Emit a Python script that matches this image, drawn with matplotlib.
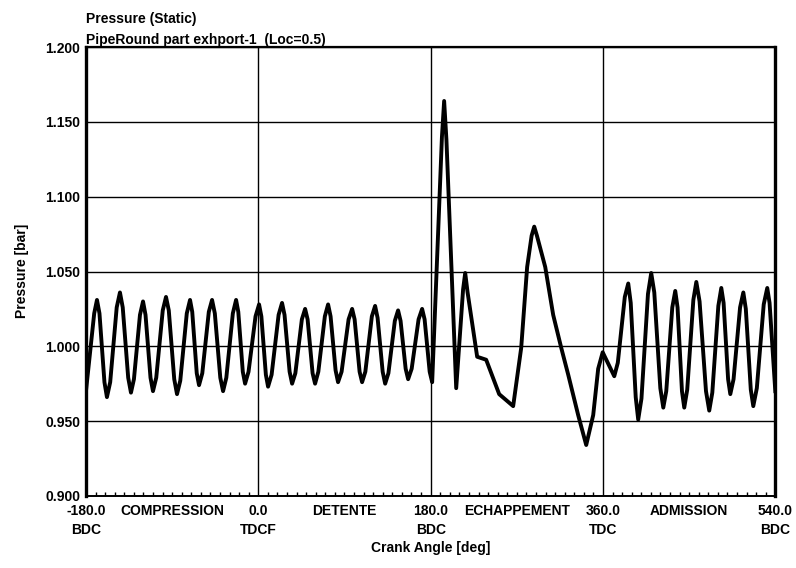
import matplotlib.pyplot as plt
from matplotlib.ticker import MultipleLocator

# crank angle [deg] / static pressure [bar]
# (peaks, troughs and the shoulders either side of them)
angle = [-180.0, -171.4, -168.5, -165.9, -160.7, -158.1, -154.7, -147.9, -144.5,
         -141.6, -135.9, -133.0, -129.9, -123.6, -120.4, -117.8, -112.6, -110.0,
         -106.6, -99.8, -96.4, -93.5, -87.8, -84.9, -81.5, -74.7, -71.3, -69.0,
         -64.3, -61.9, -58.5, -51.7, -48.3, -45.4, -39.7, -36.8, -33.4, -26.6,
         -23.2, -20.9, -16.2, -13.8, -10.2, -2.9, 0.8, 3.2, 7.9, 10.2, 13.9, 21.2,
         24.8, 27.4, 32.7, 35.3, 38.7, 45.5, 48.9, 51.5, 56.7, 59.3, 62.7, 69.5,
         72.9, 75.5, 80.7, 83.3, 87.0, 94.3, 98.0, 100.6, 105.8, 108.4, 111.8,
         118.6, 122.0, 124.6, 129.9, 132.5, 135.9, 142.6, 146.0, 148.6, 153.9,
         156.5, 160.2, 167.4, 171.1, 173.7, 179.0, 181.6,
         191.8, 194.1, 196.5, 206.7, 213.9, 216.1, 218.6, 228.6, 238.0, 251.6,
         266.2, 274.6, 280.8, 285.5, 288.2, 291.0, 299.7, 308.0, 316.4, 323.7,
         334.1, 342.5, 349.8, 355.0, 359.7, 371.8,
         375.5, 382.8, 386.4, 389.0, 394.2, 396.8, 400.2, 407.0, 410.4, 413.6,
         419.9, 423.0, 426.1, 432.4, 435.5, 437.9, 442.5, 444.9, 448.0, 454.4,
         457.5, 460.9, 467.6, 471.0, 474.2, 480.5, 483.6, 486.0, 490.7, 493.0,
         496.4, 503.2, 506.6, 509.2, 514.4, 517.0, 520.7, 527.9, 531.6, 534.0,
         540.0]
pressure = [0.970, 1.022, 1.031, 1.022, 0.976, 0.966, 0.976, 1.026, 1.036,
            1.026, 0.979, 0.969, 0.978, 1.021, 1.030, 1.021, 0.979, 0.970,
            0.979, 1.024, 1.033, 1.024, 0.978, 0.968, 0.977, 1.022, 1.031, 1.023,
            0.982, 0.974, 0.982, 1.023, 1.031, 1.022, 0.979, 0.970, 0.979, 1.022,
            1.031, 1.023, 0.983, 0.975, 0.983, 1.020, 1.028, 1.020, 0.981, 0.973, 0.981, 1.021,
            1.029, 1.021, 0.983, 0.975, 0.982, 1.018, 1.025, 1.018, 0.982, 0.975, 0.983, 1.020,
            1.028, 1.020, 0.984, 0.976, 0.983, 1.018, 1.025, 1.018, 0.983, 0.976, 0.983,
            1.020, 1.027, 1.019, 0.983, 0.975, 0.982, 1.017, 1.024, 1.017, 0.985,
            0.978, 0.985, 1.018, 1.025, 1.018, 0.983, 0.976,
            1.140, 1.164, 1.138, 0.972, 1.038, 1.049, 1.036, 0.993, 0.991, 0.968,
            0.960, 0.999, 1.053, 1.074, 1.080, 1.074, 1.053, 1.021, 0.999, 0.981,
            0.954, 0.934, 0.954, 0.985, 0.996, 0.980,
            0.989, 1.033, 1.042, 1.029, 0.966, 0.951, 0.965, 1.035, 1.049, 1.036,
            0.972, 0.959, 0.970, 1.026, 1.037, 1.026, 0.970, 0.959, 0.971, 1.031,
            1.043, 1.030, 0.970, 0.957, 0.969, 1.027, 1.039, 1.029, 0.978, 0.968,
            0.978, 1.026, 1.036, 1.025, 0.971, 0.960, 0.972, 1.028, 1.039, 1.029,
            0.970]

xticks = [-180, 0, 180, 360, 540]
xtick_labels = ['-180.0\nBDC', '0.0\nTDCF', '180.0\nBDC', '360.0\nTDC', '540.0\nBDC']
phase_pos = [-90, 90, 270, 450]
phase_names = ['COMPRESSION', 'DETENTE', 'ECHAPPEMENT', 'ADMISSION']
yticks = [0.900, 0.950, 1.000, 1.050, 1.100, 1.150, 1.200]

plt.rcParams['font.family'] = ['Liberation Sans', 'DejaVu Sans']
plt.rcParams['font.weight'] = 'bold'
plt.rcParams['font.size'] = 10

fig = plt.figure(figsize=(7.96, 5.68), dpi=100)
ax = fig.add_axes([0.108, 0.127, 0.866, 0.790])

ax.plot(angle, pressure, color='black', lw=2.8, solid_joinstyle='round', zorder=3)

ax.set_xlim(-180, 540)
ax.set_ylim(0.9, 1.2)
ax.set_xticks(xticks)
ax.set_xticklabels(xtick_labels)
for lbl in ax.get_xticklabels():
    lbl.set_linespacing(1.45)
ax.set_yticks(yticks)
ax.set_yticklabels([f'{v:.3f}' for v in yticks])
ax.xaxis.set_minor_locator(MultipleLocator(10))
ax.tick_params(axis='both', which='major', length=0)
ax.tick_params(axis='x', which='major', pad=6)
ax.tick_params(axis='y', which='major', pad=4)
ax.tick_params(axis='x', which='minor', direction='in', length=3, width=1)
ax.grid(True, color='black', lw=1.0)

# frame: thick sides, thinner top/bottom like the original plot
ax.spines['left'].set_linewidth(2.4)
ax.spines['right'].set_linewidth(2.4)
ax.spines['top'].set_linewidth(1.6)
ax.spines['bottom'].set_linewidth(1.4)

# stroke names between the TDC/BDC ticks
for pos, name in zip(phase_pos, phase_names):
    ax.annotate(name, xy=(pos, 0), xycoords=('data', 'axes fraction'),
                xytext=(0, -6), textcoords='offset points',
                ha='center', va='top')

ax.text(0, 1.0, 'PipeRound part exhport-1  (Loc=0.5)', transform=ax.transAxes,
        ha='left', va='bottom')
ax.text(0, 1.0 + 21 / 449, 'Pressure (Static)', transform=ax.transAxes,
        ha='left', va='bottom')

fig.text(431 / 796, 1 - 548 / 568, 'Crank Angle [deg]', ha='center', va='center')
fig.text(22 / 796, 1 - 271 / 568, 'Pressure [bar]', rotation=90,
         ha='center', va='center')

fig.savefig('out.png', dpi=100)
